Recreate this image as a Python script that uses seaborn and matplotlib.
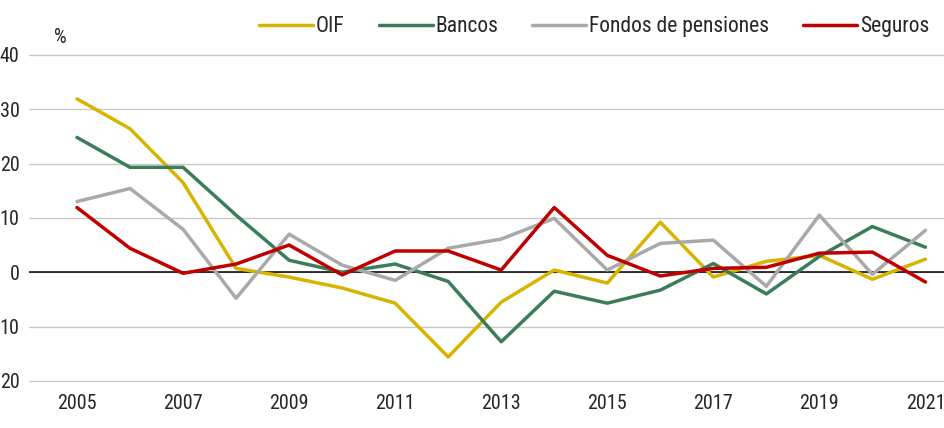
import pandas as pd
import matplotlib.pyplot as plt
import seaborn as sns

years = list(range(2005, 2022))
oif = [31.9, 26.4, 16.5, 0.7, -0.9, -2.9, -5.7, -15.6, -5.5, 0.4, -2.0, 9.2, -0.9, 2.0, 3.1, -1.3, 2.4]
bancos = [24.8, 19.3, 19.3, 10.5, 2.2, 0.0, 1.5, -1.7, -12.8, -3.5, -5.7, -3.3, 1.6, -4.0, 2.9, 8.4, 4.6]
pensiones = [13.0, 15.4, 7.9, -4.8, 7.0, 1.3, -1.5, 4.4, 6.1, 9.9, 0.4, 5.3, 5.9, -2.6, 10.5, -0.4, 7.7]
seguros = [11.9, 4.4, -0.2, 1.5, 5.0, -0.5, 3.9, 3.9, 0.4, 11.9, 3.1, -0.7, 0.7, 0.9, 3.5, 3.7, -1.8]

series = ["OIF", "Bancos", "Fondos de pensiones", "Seguros"]
colors = ["#D6B400", "#3B7D5B", "#A9A9A9", "#C00000"]
yticks = [-20, -10, 0, 10, 20, 30, 40]
xticks = list(range(2005, 2022, 2))

df = pd.DataFrame({
    "year": years * 4,
    "value": oif + bancos + pensiones + seguros,
    "serie": sum([[s] * len(years) for s in series], []),
})

sns.set_style("white")
plt.rcParams["font.family"] = ["Roboto Condensed", "Liberation Sans Narrow", "Lato", "DejaVu Sans"]

fig = plt.figure(figsize=(9.44, 4.28), dpi=100)
ax = fig.add_axes([0.031, 0.105, 0.969, 0.772])

sns.lineplot(data=df, x="year", y="value", hue="serie", palette=colors,
             hue_order=series, linewidth=2.5, ax=ax)

ax.set_ylim(-20.4, 40.4)
ax.set_xlim(2004.1, 2021.35)
ax.set_yticks(yticks)
ax.set_yticklabels([str(abs(t)) for t in yticks])
ax.set_xticks(xticks)
ax.grid(axis="y", color="#C8C8C8", linewidth=1)
ax.axhline(0, color="black", linewidth=1.1, zorder=1)
for s in ax.spines.values():
    s.set_visible(False)
ax.tick_params(axis="both", length=0, labelsize=14.5)
ax.tick_params(axis="y", pad=7)
ax.tick_params(axis="x", pad=8)
ax.set_xlabel("")
ax.set_ylabel("")
ax.text(0.027, 1.03, "%", transform=ax.transAxes, fontsize=14.5)

ax.legend(loc="center right", bbox_to_anchor=(0.993, 1.078), ncol=4, frameon=False,
          fontsize=15.5, handlelength=2.5, handletextpad=0.12, columnspacing=1.6,
          borderaxespad=0)

fig.savefig("out.png", dpi=100)
